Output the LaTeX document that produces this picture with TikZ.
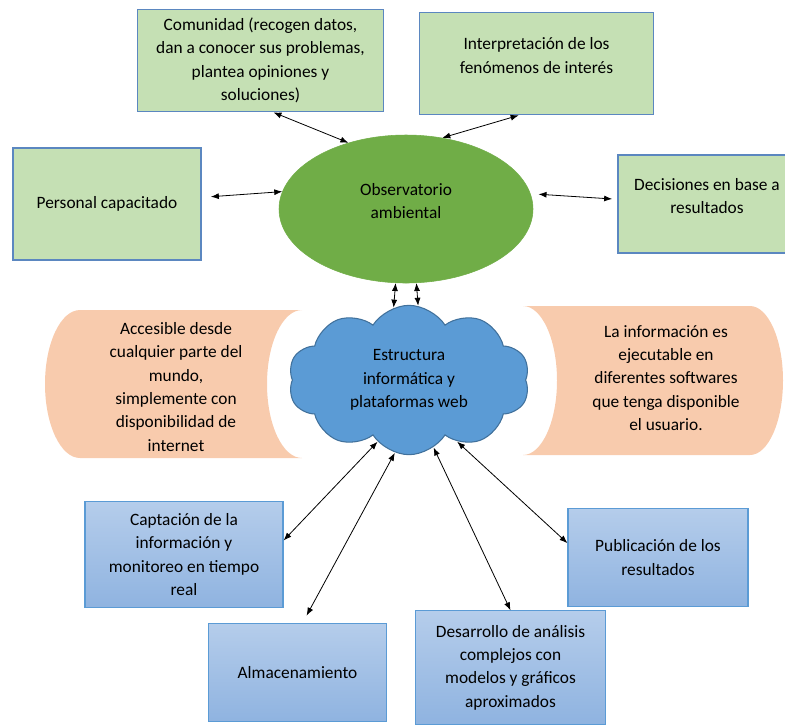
\documentclass[tikz,border=0pt]{standalone}
\usepackage{fontspec}
\setmainfont{Carlito}
\usepackage{xcolor}
\usepackage{tikz}
\usetikzlibrary{shapes.geometric, shapes.symbols, arrows.meta}

\definecolor{boxgreen}{HTML}{C5E0B4}
\definecolor{boxline}{HTML}{5B87C0}
\definecolor{ovalgreen}{HTML}{70AD47}
\definecolor{cloudblue}{HTML}{5B9BD5}
\definecolor{cloudline}{HTML}{41719C}
\definecolor{peach}{HTML}{F8CBAD}
\definecolor{bluetop}{HTML}{B5CDEB}
\definecolor{bluebot}{HTML}{8FB3E0}
\definecolor{blueline}{HTML}{5B9BD5}

\begin{document}
\begin{tikzpicture}[x=0.75pt, y=-0.75pt,
    every node/.style={align=center, font=\fontsize{13}{17.5}\selectfont, inner sep=2pt},
    gbox/.style={rectangle, draw=boxline, fill=boxgreen, line width=0.8pt},
    bbox/.style={rectangle, draw=blueline, top color=bluetop, bottom color=bluebot, line width=0.8pt},
    link/.style={{Latex[length=6pt,width=4.5pt]}-{Latex[length=6pt,width=4.5pt]}, line width=0.6pt}]
    \useasboundingbox (0,0) rectangle (785,726);

    % peach side panels
    \fill[peach] (80,310) -- (302,310) .. controls (282.7,310) and (267,343.1) .. (267,384)
        .. controls (267,424.9) and (282.7,458) .. (302,458) -- (80,458)
        .. controls (60.7,458) and (45,424.9) .. (45,384)
        .. controls (45,343.1) and (60.7,310) .. (80,310) -- cycle;
    \fill[peach] (523,306) -- (750,306) .. controls (768.2,306) and (783,339.4) .. (783,380.5)
        .. controls (783,421.6) and (768.2,455) .. (750,455) -- (523,455)
        .. controls (541.8,455) and (557,421.6) .. (557,380.5)
        .. controls (557,339.4) and (541.8,306) .. (523,306) -- cycle;

    \node[gbox, minimum width=185pt, minimum height=77pt] (A) at (260.5,60.5) {Comunidad (recogen datos,\\ dan a conocer sus problemas,\\ plantea opiniones y\\ soluciones)};
    \node[gbox, minimum width=175pt, minimum height=77pt, text depth=12pt] (B) at (536.5,63.5) {Interpretación de los\\ fenómenos de interés};
    \node[gbox, minimum width=141pt, minimum height=84pt] (C) at (107,204) {Personal capacitado};
    \node[gbox, minimum width=133.5pt, minimum height=73.5pt, text depth=12pt] (D) at (707,204) {Decisiones en base a\\ resultados};

    \node[ellipse, fill=ovalgreen, draw=ovalgreen, minimum width=190.5pt, minimum height=111pt, inner sep=0pt, text depth=12pt] (E) at (406,209) {Observatorio\\ ambiental};
    \node[cloud, cloud puffs=10, cloud puff arc=115, cloud ignores aspect, draw=cloudline, fill=cloudblue, line width=0.8pt, minimum width=181pt, minimum height=112pt, inner sep=0pt] (F) at (409,380) {Estructura\\ informática y\\ plataformas web};

    \node (G) at (176,387) {Accesible desde\\ cualquier parte del\\ mundo,\\ simplemente con\\ disponibilidad de\\ internet};
    \node (H) at (666,378) {La información es\\ ejecutable en\\ diferentes softwares\\ que tenga disponible\\ el usuario.};

    \node[bbox, minimum width=148.5pt, minimum height=80pt] (I) at (184,554.5) {Captación de la\\ información y\\ monitoreo en tiempo\\ real};
    \node[bbox, minimum width=134pt, minimum height=74pt] (J) at (297.5,672.5) {Almacenamiento};
    \node[bbox, minimum width=143pt, minimum height=85pt] (K) at (510.5,667.5) {Desarrollo de análisis\\ complejos con\\ modelos y gráficos\\ aproximados};
    \node[bbox, minimum width=135pt, minimum height=74pt] (L) at (658,557.5) {Publicación de los\\ resultados};

    \draw[link] (A.-76) -- (E.131);
    \draw[link] (B.-109) -- (E.63);
    \draw[link, shorten <=7pt] (C.4) -- (E.172);
    \draw[link, shorten <=6pt, shorten >=4pt] (E.7) -- (D.177);
    \draw[link] (E.-98) -- (F.102);
    \draw[link] (E.-82) -- (F.83);
    \draw[link] (F.-117) -- (I.8);
    \draw[link, shorten >=6pt] (F.-101) -- (J.84);
    \draw[link] (F.-70) -- (K.90);
    \draw[link] (F.-52) -- (L.171);
\end{tikzpicture}
\end{document}
